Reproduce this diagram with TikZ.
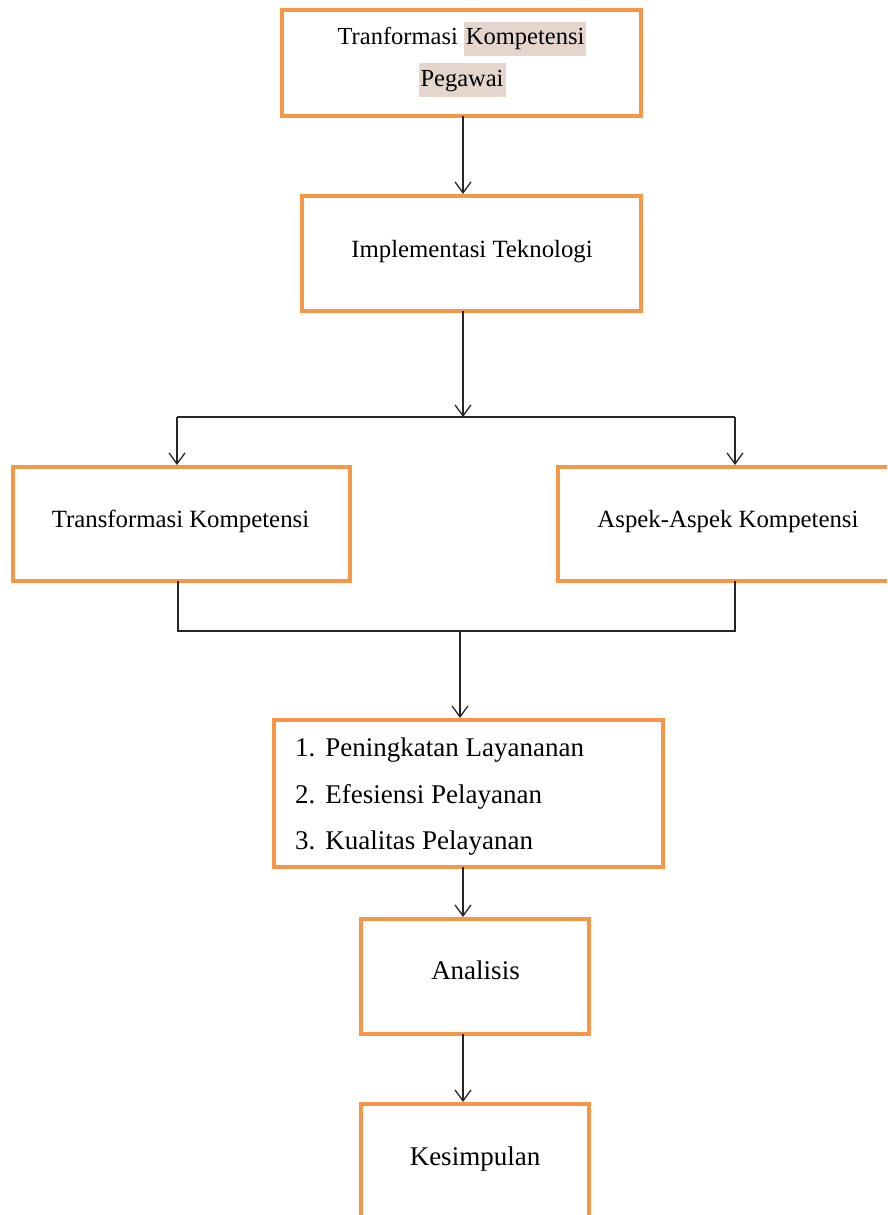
\documentclass[tikz,border=0pt]{standalone}
\usepackage{fontspec}
\setmainfont{Liberation Serif}
\usetikzlibrary{arrows.meta}
\definecolor{boxorange}{RGB}{247,150,70}
\definecolor{hl}{RGB}{228,214,204}
\begin{document}
\begin{tikzpicture}[x=1pt,y=-1pt,
  box/.style={draw=boxorange,line width=4pt,fill=white,inner sep=0pt,font=\fontsize{24.5}{30}\selectfont},
  label/.style={anchor=base,font=\fontsize{24.8}{30}\selectfont},
  biglabel/.style={anchor=base,font=\fontsize{27}{32}\selectfont},
  conn/.style={draw=black!85,line width=1.3pt},
  arr/.style={conn,-{Straight Barb[length=11pt,width=16pt,line width=1.3pt]}}]
\useasboundingbox (0,0) rectangle (887,1215);
\clip (0,0) rectangle (887,1215);
\fill[white] (0,0) rectangle (887,1215);
% boxes
\node[box,minimum width=359pt,minimum height=106pt] (b1) at (461.5,63) {};
\node[label,font=\fontsize{24.5}{30}\selectfont] (t1a) at (462,45)
  {Tranformasi \setlength{\fboxsep}{2pt}\colorbox{hl}{\strut Kompetensi}};
\node[label,font=\fontsize{24.5}{30}\selectfont] (t1b) at (462,86)
  {\setlength{\fboxsep}{2pt}\colorbox{hl}{\strut Pegawai}};
\node[box,minimum width=339pt,minimum height=115pt] (b2) at (471.5,253.5) {};
\node[label] (t2) at (472,257) {Implementasi Teknologi};
\node[box,minimum width=337pt,minimum height=114pt] (b3) at (181.5,524) {};
\node[label] (t3) at (180.5,527) {Transformasi Kompetensi};
\node[box,minimum width=340pt,minimum height=114pt] (b4) at (728,524) {};
\node[label] (t4) at (728,527) {Aspek-Aspek Kompetensi};
\node[box,minimum width=389pt,minimum height=147pt] (b5) at (468.5,793.5) {};
\node[anchor=north west,inner sep=0pt,font=\fontsize{27}{32}\selectfont,align=left] (t5) at (295,734)
  {\begin{tabular}{@{}l@{\hspace{10pt}}l@{}}
   1. & Peningkatan Layananan\\[15pt]
   2. & Efesiensi Pelayanan\\[14pt]
   3. & Kualitas Pelayanan
   \end{tabular}};
\node[box,minimum width=228pt,minimum height=115pt] (b6) at (475,976.5) {};
\node[biglabel] (t6) at (475.5,979) {Analisis};
\node[box,minimum width=228pt,minimum height=140pt] (b7) at (475,1174) {};
\node[biglabel] (t7) at (475,1165) {Kesimpulan};
% connectors
\coordinate (s1) at (463,116);
\coordinate (j1) at (463,417);
\coordinate (jl) at (177,417);
\coordinate (jr) at (735,417);
\coordinate (ml) at (178,631);
\coordinate (mr) at (735,631);
\coordinate (mc) at (460,631);
\draw[arr] (s1) -- (463,194);
\draw[arr] (463,311) -- (j1);
\draw[conn] (jl) -- (jr);
\draw[arr] (jl) -- (177,465);
\draw[arr] (jr) -- (735,465);
\draw[conn] (178,581) -- (ml) -- (mr) -- (735,581);
\draw[arr] (mc) -- (460,718);
\draw[arr] (463,867) -- (463,917);
\draw[arr] (463,1034) -- (463,1102);
\end{tikzpicture}
\end{document}
